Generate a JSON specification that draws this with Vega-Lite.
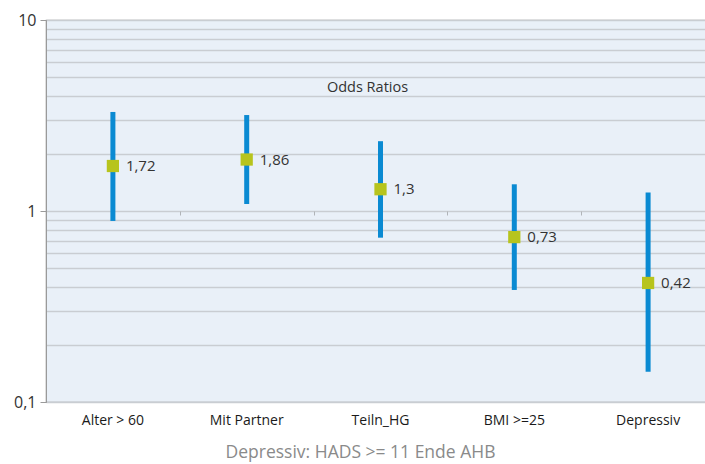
{
  "$schema": "https://vega.github.io/schema/vega-lite/v6.json",
  "autosize": {"type": "none"},
  "padding": {"left": 46, "top": 20, "right": 0, "bottom": 62},
  "width": 669,
  "height": 382,
  "config": {
    "locale": {"number": {"decimal": ",", "thousands": ".", "grouping": [3], "currency": ["", " €"]}},
    "font": "Open Sans",
    "view": {"fill": "#e9f0f8", "stroke": "#959595", "strokeWidth": 1.2}
  },
  "title": {
    "text": "Odds Ratios",
    "fontSize": 14.5,
    "fontWeight": "normal",
    "color": "#333333",
    "font": "Open Sans",
    "offset": -83,
    "dx": -13
  },
  "data": {
    "values": [
      {"gruppe": "Alter > 60", "or": 1.72, "lo": 0.887, "hi": 3.30},
      {"gruppe": "Mit Partner", "or": 1.86, "lo": 1.088, "hi": 3.18},
      {"gruppe": "Teiln_HG", "or": 1.3, "lo": 0.725, "hi": 2.32},
      {"gruppe": "BMI >=25", "or": 0.73, "lo": 0.386, "hi": 1.38},
      {"gruppe": "Depressiv", "or": 0.42, "lo": 0.144, "hi": 1.25}
    ]
  },
  "resolve": {"axis": {"x": "independent"}},
  "layer": [
    {
      "mark": {"type": "rule", "strokeWidth": 5, "color": "#0a8ad2"},
      "encoding": {
        "x": {
          "field": "gruppe",
          "type": "nominal",
          "sort": null,
          "scale": {"paddingInner": 0, "paddingOuter": 0},
          "axis": {
            "orient": "bottom",
            "title": "Depressiv: HADS >= 11 Ende AHB",
            "titleFont": "Open Sans",
            "titleFontSize": 17.5,
            "titleFontWeight": "normal",
            "titleColor": "#8a8a8a",
            "titlePadding": 16,
            "titleX": 314,
            "titleAlign": "center",
            "labelAngle": 0,
            "labelFont": "Open Sans",
            "labelFontSize": 14,
            "labelColor": "#1a1a1a",
            "labelPadding": 11,
            "ticks": false,
            "domain": false,
            "grid": false
          }
        },
        "y": {
          "field": "lo",
          "type": "quantitative",
          "scale": {"type": "log", "domain": [0.1, 10], "nice": false},
          "axis": {
            "title": null,
            "values": [0.1, 0.2, 0.3, 0.4, 0.5, 0.6, 0.7, 0.8, 0.9, 1, 2, 3, 4, 5, 6, 7, 8, 9, 10],
            "format": "~g",
            "labelExpr": "indexof([0.1, 1, 10], datum.value) >= 0 ? datum.label : ''",
            "labelFont": "Open Sans",
            "labelFontSize": 16,
            "labelColor": "#333333",
            "labelPadding": 4,
            "grid": true,
            "gridColor": "#c9cdd2",
            "gridWidth": 1.5,
            "tickSize": 6,
            "tickColor": "#9a9a9a",
            "tickOpacity": {"condition": {"test": "indexof([0.1, 1, 10], datum.value) >= 0", "value": 1}, "value": 0},
            "domainColor": "#9a9a9a"
          }
        },
        "y2": {"field": "hi"}
      }
    },
    {
      "mark": {"type": "point", "shape": "square", "filled": true, "size": 150, "opacity": 1, "color": "#b7c41d"},
      "encoding": {
        "x": {"field": "gruppe", "type": "nominal", "sort": null, "axis": null},
        "y": {"field": "or", "type": "quantitative"}
      }
    },
    {
      "mark": {"type": "text", "align": "left", "baseline": "middle", "dx": 13, "fontSize": 15, "color": "#333333", "font": "Open Sans"},
      "encoding": {
        "x": {
          "field": "gruppe",
          "type": "nominal",
          "sort": null,
          "axis": {
            "orient": "bottom",
            "offset": -191,
            "title": null,
            "labels": false,
            "domain": false,
            "grid": false,
            "ticks": true,
            "tickBand": "extent",
            "tickSize": 4,
            "tickColor": "#b0b4b8"
          }
        },
        "y": {"field": "or", "type": "quantitative"},
        "text": {"field": "or", "type": "quantitative", "format": ".2~f"}
      }
    }
  ]
}
